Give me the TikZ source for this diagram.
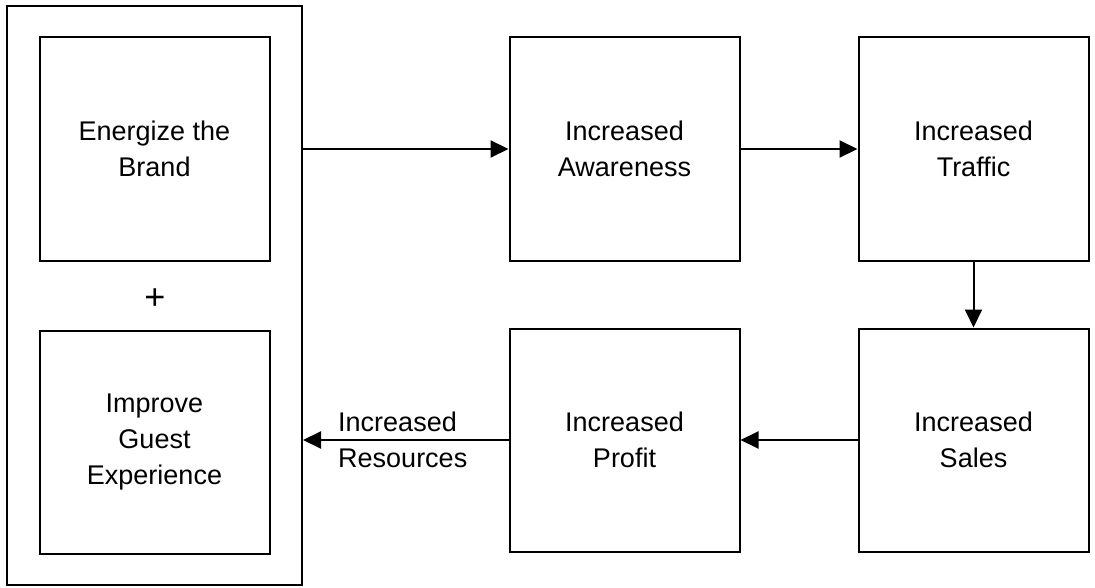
\documentclass[tikz,border=0pt]{standalone}
\usepackage{fontspec}
\setmainfont{Liberation Sans}
\usetikzlibrary{positioning,fit,arrows.meta}
\tikzset{
  block/.style={rectangle, draw, align=center, minimum width=230pt, minimum height=223pt, inner sep=0pt},
  line/.style={draw, -{Triangle[length=18pt,width=17pt]}}
}

\begin{document}
\begin{tikzpicture}[x=1pt, y=-1pt, line width=2pt, font=\fontsize{27}{36}\selectfont]
    \useasboundingbox (0,0) rectangle (1095,588);
    % Nodes
    \node [block] (energize) at (154.5,149) {Energize the\\Brand};
    \node [block, below=68pt of energize] (improve) {Improve\\Guest\\Experience};
    \node [font=\fontsize{36}{36}\selectfont] (plus) at (155,299) {+};
    \node [draw, fit=(energize)(improve), inner xsep=31.5pt, inner ysep=30pt] (strategy) {};
    \node [block, right=238pt of energize] (awareness) {Increased\\Awareness};
    \node [block, right=117pt of awareness] (traffic) {Increased\\Traffic};
    \node [block, below=66pt of traffic] (sales) {Increased\\Sales};
    \node [block, left=117pt of sales] (profit) {Increased\\Profit};

    % arrows
    \path [line] (strategy.east |- awareness.west) -- (awareness.west);
    \path [line] (awareness.east) -- (traffic.west);
    \path [line] (traffic.south) -- (sales.north);
    \path [line] (sales.west) -- (profit.east);
    \path [line] (profit.west) -- node[align=left, xshift=-3pt] {Increased\\Resources} (strategy.east |- profit.west);

\end{tikzpicture}
\end{document}
